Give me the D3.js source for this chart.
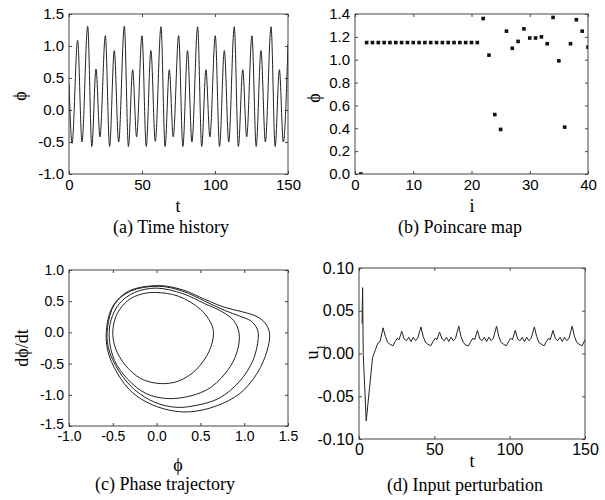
<!DOCTYPE html>
<html>
<head>
<meta charset="utf-8">
<script src="https://cdn.jsdelivr.net/npm/d3@7"></script>
<style>
body { margin: 0; background: #fff; }
svg text { fill: #000; }
.tick text { font-family: "Liberation Sans", Arial, sans-serif; font-size: 15px; }
.big .tick text { font-size: 16px; }
.small .tick text { font-size: 14px; }
.tick line { stroke: #444; }
.lab { font-family: "Liberation Serif", "Times New Roman", serif; font-size: 18px; }
</style>
</head>
<body>
<svg width="605" height="500"></svg>
<script>
// (a) time history: turning points
var histT = [0, 2.1, 5.9, 8.9, 12.8, 15.6, 18.5, 21.2, 24.9, 27.8, 31.0, 34.0,
  37.9, 40.7, 43.6, 46.3, 50.0, 52.9, 56.1, 59.1, 63.0, 65.8, 68.7, 71.4,
  75.1, 78.0, 81.2, 84.2, 88.1, 90.9, 93.8, 96.5, 100.2, 103.1, 106.4, 109.4,
  113.2, 116.0, 119.0, 121.7, 125.3, 128.2, 131.5, 134.5, 138.4, 141.2, 144.1, 146.8, 150];
var histPhi = [0.42, -0.52, 1.09, -0.50, 1.31, -0.57, 0.64, -0.42, 1.16, -0.57, 0.93, -0.50,
  1.31, -0.57, 0.63, -0.42, 1.16, -0.57, 0.93, -0.49, 1.30, -0.57, 0.63, -0.42,
  1.16, -0.57, 0.93, -0.50, 1.30, -0.57, 0.63, -0.42, 1.16, -0.57, 0.93, -0.50,
  1.30, -0.57, 0.63, -0.42, 1.16, -0.57, 0.93, -0.50, 1.30, -0.57, 0.63, -0.50, 1.03];

// (b) Poincare map
var mapI = d3.range(1, 41);
var mapPhi = [0.00, 1.15, 1.15, 1.15, 1.15, 1.15, 1.15, 1.15, 1.15, 1.15,
  1.15, 1.15, 1.15, 1.15, 1.15, 1.15, 1.15, 1.15, 1.15, 1.15,
  1.15, 1.36, 1.04, 0.52, 0.39, 1.25, 1.10, 1.16, 1.27, 1.19,
  1.19, 1.20, 1.14, 1.37, 0.99, 0.41, 1.14, 1.35, 1.25, 1.11];

// (c) phase trajectory, four loops
var orbit1Phi = [-0.02, 0.25, 0.50, 0.62, 0.65, 0.60, 0.45, 0.25, 0.04, -0.18, -0.36, -0.47, -0.50, -0.45, -0.32, -0.18];
var orbit1Rate = [0.64, 0.58, 0.37, 0.15, -0.02, -0.30, -0.60, -0.78, -0.82, -0.74, -0.52, -0.25, 0.02, 0.30, 0.52, 0.61];
var orbit2Phi = [0.00, 0.30, 0.55, 0.75, 0.88, 0.94, 0.93, 0.84, 0.62, 0.38, 0.12, -0.12, -0.33, -0.48, -0.54, -0.52, -0.42, -0.25];
var orbit2Rate = [0.71, 0.62, 0.46, 0.33, 0.19, 0.00, -0.25, -0.55, -0.88, -1.02, -1.06, -0.98, -0.75, -0.45, -0.10, 0.20, 0.47, 0.64];
var orbit3Phi = [0.02, 0.30, 0.55, 0.78, 0.95, 1.08, 1.15, 1.16, 1.10, 0.95, 0.72, 0.45, 0.22, -0.02, -0.25, -0.43, -0.55, -0.56, -0.48, -0.30];
var orbit3Rate = [0.74, 0.66, 0.50, 0.35, 0.26, 0.18, 0.05, -0.10, -0.45, -0.78, -1.05, -1.17, -1.20, -1.12, -0.92, -0.62, -0.25, 0.08, 0.45, 0.66];
var orbit4Phi = [0.02, 0.30, 0.55, 0.78, 0.98, 1.15, 1.25, 1.29, 1.26, 1.15, 0.95, 0.68, 0.40, 0.20, -0.05, -0.28, -0.45, -0.56, -0.57, -0.50, -0.32];
var orbit4Rate = [0.75, 0.68, 0.53, 0.40, 0.33, 0.25, 0.13, -0.03, -0.30, -0.65, -0.98, -1.18, -1.27, -1.26, -1.16, -0.96, -0.65, -0.28, 0.08, 0.42, 0.66];

// (d) input perturbation
var inputT = [2.0, 2.4, 2.8, 4.8, 7.0, 9.0, 11.0, 12.5, 14.0,
  16.0, 17.5, 19.0, 20.5, 22.5, 24.0, 25.5, 26.5, 28.4, 30.0, 31.5, 33.0, 34.5, 36.0, 37.5, 39.0,
  41.1, 42.6, 44.1, 45.6, 47.6, 49.1, 50.6, 51.6, 53.5, 55.1, 56.6, 58.1, 59.6, 61.1, 62.6, 64.1,
  66.2, 67.7, 69.2, 70.7, 72.7, 74.2, 75.7, 76.7, 78.6, 80.2, 81.7, 83.2, 84.7, 86.2, 87.7, 89.2,
  91.3, 92.8, 94.3, 95.8, 97.8, 99.3, 100.8, 101.8, 103.7, 105.3, 106.8, 108.3, 109.8, 111.3, 112.8, 114.3,
  116.4, 117.9, 119.4, 120.9, 122.9, 124.4, 125.9, 126.9, 128.8, 130.4, 131.9, 133.4, 134.9, 136.4, 137.9, 139.4,
  141.5, 143.0, 144.5, 146.0, 148.0, 150];
var inputU = [0.035, 0.077, 0.000, -0.079, -0.040, -0.005, 0.005, 0.012, 0.014,
  0.030, 0.020, 0.013, 0.011, 0.009, 0.014, 0.018, 0.016, 0.026, 0.017, 0.015, 0.019, 0.014, 0.019, 0.015, 0.018,
  0.031, 0.020, 0.013, 0.011, 0.009, 0.014, 0.018, 0.016, 0.025, 0.017, 0.015, 0.019, 0.014, 0.019, 0.015, 0.018,
  0.032, 0.020, 0.013, 0.010, 0.009, 0.014, 0.018, 0.016, 0.027, 0.017, 0.015, 0.019, 0.014, 0.019, 0.015, 0.018,
  0.032, 0.020, 0.013, 0.011, 0.009, 0.014, 0.018, 0.016, 0.027, 0.017, 0.015, 0.019, 0.014, 0.019, 0.015, 0.018,
  0.031, 0.020, 0.013, 0.011, 0.009, 0.014, 0.018, 0.016, 0.027, 0.017, 0.015, 0.019, 0.014, 0.019, 0.015, 0.018,
  0.032, 0.020, 0.013, 0.011, 0.009, 0.016];

var svg = d3.select("svg");

function fixed(n) { return function(d) { return d.toFixed(n); }; }

// one framed panel with inward ticks on all four sides
function panel(id, left, top, right, bottom, xDom, yDom, xTicks, yTicks, xFmt, yFmt) {
  var x = d3.scaleLinear().domain(xDom).range([left, right]);
  var y = d3.scaleLinear().domain(yDom).range([bottom, top]);
  var g = svg.append("g");

  svg.append("clipPath").attr("id", id)
    .append("rect").attr("x", left).attr("y", top)
    .attr("width", right - left).attr("height", bottom - top);

  g.append("g").attr("transform", "translate(0," + bottom + ")")
    .call(d3.axisBottom(x).tickValues(xTicks).tickFormat(xFmt).tickSizeInner(-3).tickSizeOuter(0).tickPadding(5));
  g.append("g").attr("transform", "translate(" + left + ",0)")
    .call(d3.axisLeft(y).tickValues(yTicks).tickFormat(yFmt).tickSizeInner(-3).tickSizeOuter(0).tickPadding(5));
  g.append("g").attr("transform", "translate(0," + top + ")")
    .call(d3.axisTop(x).tickValues(xTicks).tickFormat("").tickSizeInner(-3).tickSizeOuter(0));
  g.append("g").attr("transform", "translate(" + right + ",0)")
    .call(d3.axisRight(y).tickValues(yTicks).tickFormat("").tickSizeInner(-3).tickSizeOuter(0));
  g.selectAll(".domain").remove();

  g.append("rect").attr("x", left).attr("y", top)
    .attr("width", right - left).attr("height", bottom - top)
    .attr("fill", "none").attr("stroke", "#444").attr("stroke-width", 1);

  return {g: g, x: x, y: y, clip: "url(#" + id + ")"};
}

function label(txt, x, y, rotate) {
  var t = svg.append("text").attr("class", "lab")
    .attr("text-anchor", "middle").text(txt);
  if (rotate) t.attr("transform", "translate(" + x + "," + y + ") rotate(-90)").attr("dy", "0.35em");
  else t.attr("x", x).attr("y", y);
  return t;
}

// (a)
var pa = panel("clipA", 69, 14, 288, 174, [0, 150], [-1, 1.5],
  [0, 50, 100, 150], [-1, -0.5, 0, 0.5, 1, 1.5], fixed(0), fixed(1));
svg.append("path")
  .datum(d3.zip(histT, histPhi))
  .attr("clip-path", pa.clip)
  .attr("fill", "none").attr("stroke", "#222").attr("stroke-width", 1)
  .attr("d", d3.line().x(function(d) { return pa.x(d[0]); }).y(function(d) { return pa.y(d[1]); })
    .curve(d3.curveMonotoneX));
label("\u03d5", 20, 96, true);
label("t", 178, 212);
label("(a) Time history", 171, 233);

// (b)
var pb = panel("clipB", 355, 14, 588, 174, [0, 40], [0, 1.4],
  [0, 10, 20, 30, 40], [0, 0.2, 0.4, 0.6, 0.8, 1.0, 1.2, 1.4], fixed(0), fixed(1));
svg.append("g").attr("clip-path", pb.clip)
  .selectAll("rect").data(d3.zip(mapI, mapPhi)).enter().append("rect")
  .attr("x", function(d) { return pb.x(d[0]) - 1.8; })
  .attr("y", function(d) { return pb.y(d[1]) - 1.8; })
  .attr("width", 3.6).attr("height", 3.6)
  .attr("fill", "#111");
label("\u03d5", 314, 98, true);
label("i", 472, 212);
label("(b) Poincare map", 460, 233);

// (c)
var pc = panel("clipC", 69, 270, 288, 426, [-1, 1.5], [-1.5, 1.0],
  [-1, -0.5, 0, 0.5, 1, 1.5], [-1.5, -1, -0.5, 0, 0.5, 1], fixed(1), fixed(1));
pc.g.attr("class", "small");
pc.g.selectAll(".tick text").filter(function(d) { return d === -1.5; }).attr("dy", "0.2em");
var orbitLine = d3.line()
  .x(function(d) { return pc.x(d[0]); }).y(function(d) { return pc.y(d[1]); })
  .curve(d3.curveCatmullRomClosed.alpha(0.5));
svg.append("g").attr("clip-path", pc.clip)
  .selectAll("path")
  .data([d3.zip(orbit1Phi, orbit1Rate), d3.zip(orbit2Phi, orbit2Rate),
         d3.zip(orbit3Phi, orbit3Rate), d3.zip(orbit4Phi, orbit4Rate)])
  .enter().append("path")
  .attr("fill", "none").attr("stroke", "#222").attr("stroke-width", 1)
  .attr("d", orbitLine);
label("d\u03d5/dt", 22, 348, true);
label("\u03d5", 178, 471);
label("(c) Phase trajectory", 165, 490);

// (d)
var pd = panel("clipD", 359, 268, 585, 439, [0, 150], [-0.1, 0.1],
  [0, 50, 100, 150], [-0.1, -0.05, 0, 0.05, 0.1], fixed(0), fixed(2));
pd.g.attr("class", "big");
svg.append("path")
  .datum(d3.zip(inputT, inputU))
  .attr("clip-path", pd.clip)
  .attr("fill", "none").attr("stroke", "#222").attr("stroke-width", 1)
  .attr("d", d3.line().x(function(d) { return pd.x(d[0]); }).y(function(d) { return pd.y(d[1]); }));
var u1 = label("u", 312, 352, true);
u1.append("tspan").attr("font-size", "12px").attr("baseline-shift", "sub").text("1");
label("t", 472, 467);
label("(d) Input perturbation", 465, 491);
</script>
</body>
</html>
